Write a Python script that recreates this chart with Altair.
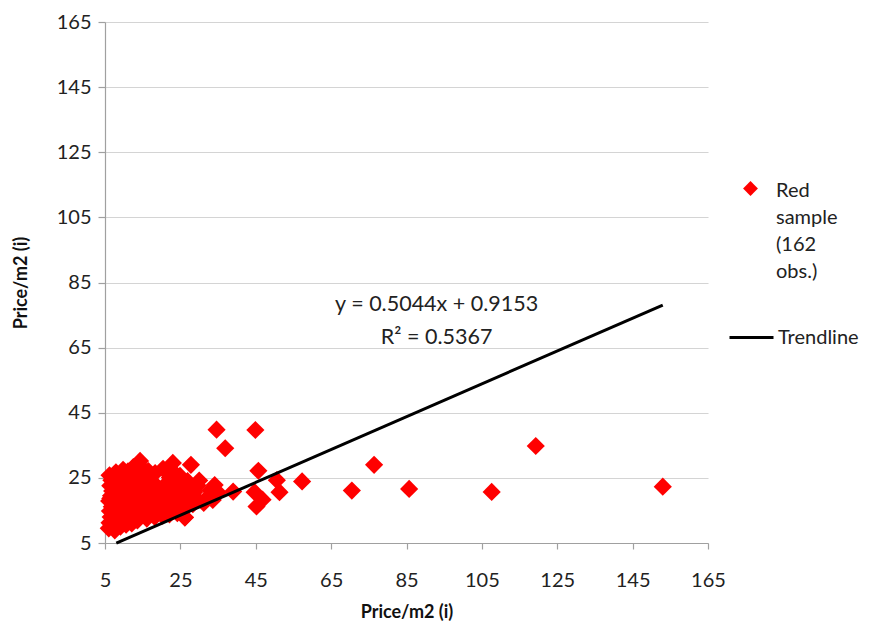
import altair as alt
import pandas as pd

# ---- data ----
cluster_x = [
    6.0, 6.2, 6.5, 6.3, 6.8, 6.1, 6.6, 6.9, 6.4, 6.7, 6.2,
    7.6, 7.9, 8.2, 7.7, 8.4, 8.0, 7.5, 8.3, 7.8, 8.1, 8.5, 7.9,
    9.1, 9.4, 9.8, 9.2, 10.0, 9.6, 9.3, 9.9, 9.0, 9.7, 9.5, 9.8,
    10.6, 11.2, 10.8, 11.4, 10.5, 11.0, 11.3, 10.7, 11.5, 10.9, 11.1,
    12.1, 12.6, 12.3, 12.9, 12.0, 12.7, 12.4, 13.0, 12.2, 12.8, 12.5,
    13.6, 14.2, 13.9, 14.6, 13.5, 14.9, 14.1, 13.7, 14.4, 14.8, 14.0, 14.3,
    16.1, 16.6, 16.3, 17.0, 16.4, 16.8, 16.2, 16.9, 16.5,
    18.2, 18.7, 18.4, 19.0, 18.5, 18.9, 18.3,
    20.3, 20.8, 20.1, 21.0, 20.5, 20.9, 20.4,
    22.1, 22.7, 22.3, 23.0, 22.5, 22.9, 22.2, 22.6, 23.0,
    24.2, 24.8, 24.4, 25.0, 24.6, 24.1, 24.9,
    26.2, 26.8, 26.5, 27.0, 26.3, 26.9, 27.8,
    28.3, 29.1, 28.7, 29.6, 30.0,
    31.2, 32.4, 33.0, 34.1, 35.0,
    6.4, 7.1, 8.2, 8.9, 9.6, 10.2, 10.9, 11.6, 12.3, 12.9, 13.6, 14.4,
    15.2, 15.9, 17.3, 19.4, 21.6, 23.7,
]
cluster_y = [
    9.5, 11.2, 13.0, 14.8, 16.1, 17.9, 19.5, 21.0, 22.6, 24.3, 25.8,
    8.9, 10.4, 12.1, 13.7, 15.5, 17.2, 18.6, 20.3, 21.9, 23.5, 25.1, 26.7,
    10.0, 11.8, 13.3, 15.0, 16.6, 18.1, 19.9, 21.4, 23.0, 24.6, 26.2, 27.5,
    10.6, 12.4, 14.1, 15.8, 17.4, 19.0, 20.7, 22.2, 24.0, 25.5, 27.0,
    11.0, 12.9, 14.6, 16.3, 18.0, 19.6, 21.2, 22.9, 24.5, 26.1, 28.3,
    11.9, 13.6, 15.2, 17.0, 18.7, 20.4, 22.0, 23.6, 25.3, 27.0, 29.0, 30.2,
    12.5, 14.4, 16.2, 18.0, 19.8, 21.6, 23.4, 25.2, 27.1,
    13.0, 14.9, 16.8, 18.6, 20.5, 22.3, 26.5,
    13.4, 15.3, 17.2, 19.1, 21.0, 22.8, 27.8,
    13.8, 15.7, 17.6, 19.5, 21.4, 23.2, 25.1, 27.5, 29.6,
    14.2, 16.1, 18.0, 19.9, 21.8, 23.6, 25.6,
    12.9, 16.5, 18.4, 20.3, 22.2, 24.0, 29.0,
    16.9, 18.8, 20.7, 22.6, 24.2,
    17.3, 19.2, 21.1, 22.8, 20.5,
    18.7, 12.3, 16.4, 22.7, 14.3, 19.4, 24.8, 13.2, 20.9, 17.5, 26.4, 21.3,
    16.9, 23.9, 20.9, 17.9, 20.2, 17.1,
]
outlier_x = [153.0, 119.3, 107.6, 85.7, 76.4, 70.5, 57.3, 51.3, 50.6, 44.9,
             34.6, 36.9, 45.7, 44.7, 46.8, 45.2, 39.0, 33.6, 26.2]
outlier_y = [22.3, 34.8, 20.7, 21.6, 29.0, 21.1, 23.9, 20.6, 24.3, 39.7,
             39.8, 34.1, 27.2, 20.6, 18.3, 16.2, 20.8, 18.2, 12.8]

trend_x = [8.0, 153.0]
trend_y = [4.95, 78.09]

eq_text = ["y = 0.5044x + 0.9153", "R² = 0.5367"]
eq_x = [93.0, 93.0]
eq_y = [78.2, 68.0]

ticks = [5, 25, 45, 65, 85, 105, 125, 145, 165]
series_name = "Red sample (162 obs.)"
series_lines = ["Red", "sample", "(162", "obs.)"]
trend_name = "Trendline"

FONT = "Lato"
FS = 20

pts = pd.DataFrame({
    "x": cluster_x + outlier_x,
    "y": cluster_y + outlier_y,
})
pts["series"] = series_name
trend = pd.DataFrame({"x": trend_x, "y": trend_y, "series": trend_name})
eq = pd.DataFrame({"x": eq_x, "y": eq_y, "t": eq_text})

xscale = alt.Scale(domain=[5, 165], nice=False, zero=False)
yscale = alt.Scale(domain=[5, 165], nice=False, zero=False)

xaxis = alt.Axis(values=ticks, grid=False, title="Price/m2 (i)", tickSize=6,
                 labelPadding=21, titlePadding=13, labelFlush=False)
yaxis = alt.Axis(values=ticks, grid=True, title="Price/m2 (i)", tickSize=7,
                 labelPadding=7, titlePadding=26, labelFlush=False)

points = alt.Chart(pts).mark_point(
    shape="diamond", filled=True, size=330, color="#ff0000", opacity=1
).encode(
    x=alt.X("x:Q", scale=xscale, axis=xaxis),
    y=alt.Y("y:Q", scale=yscale, axis=yaxis),
    shape=alt.Shape("series:N",
                    scale=alt.Scale(domain=[series_name], range=["diamond"]),
                    legend=alt.Legend(orient="none", legendX=638, legendY=159,
                                      title=series_lines, titleOrient="right",
                                      titleAnchor="start",
                                      titleFont=FONT, titleFontSize=FS,
                                      titleFontWeight="normal", titleColor="#222",
                                      titleLineHeight=27, titlePadding=14,
                                      titleBaseline="top",
                                      labelExpr="''", symbolSize=220,
                                      symbolFillColor="#ff0000",
                                      symbolStrokeWidth=0)),
)

line = alt.Chart(trend).mark_line(color="black", strokeWidth=3).encode(
    x="x:Q",
    y="y:Q",
    color=alt.Color("series:N",
                    scale=alt.Scale(domain=[trend_name], range=["black"]),
                    legend=alt.Legend(orient="none", legendX=623, legendY=292,
                                      title=None, symbolType="stroke",
                                      symbolSize=1936, symbolStrokeWidth=2.8,
                                      labelFont=FONT, labelFontSize=FS,
                                      labelColor="#222", labelOffset=3)),
)

eqtext = alt.Chart(eq).mark_text(
    font=FONT, fontSize=21.5, color="#222", align="center", baseline="middle"
).encode(x="x:Q", y="y:Q", text="t:N")

chart = alt.layer(points, line, eqtext).properties(
    width=603, height=521,
    autosize=alt.AutoSizeParams(type="none"),
    padding={"left": 97, "top": 14, "right": 154, "bottom": 78},
).configure_view(stroke="transparent").configure_axis(
    labelFont=FONT, labelFontSize=FS, labelColor="#222",
    titleFont=FONT, titleFontSize=18, titleFontWeight="bold", titleColor="#111",
    domainColor="#a0a0a0", tickColor="#a0a0a0", gridColor="#d4d4d4",
    domainWidth=1.2, tickWidth=1.2, gridWidth=1.2,
)

chart.save("out.html", embed_options={"renderer": "svg", "actions": False})
